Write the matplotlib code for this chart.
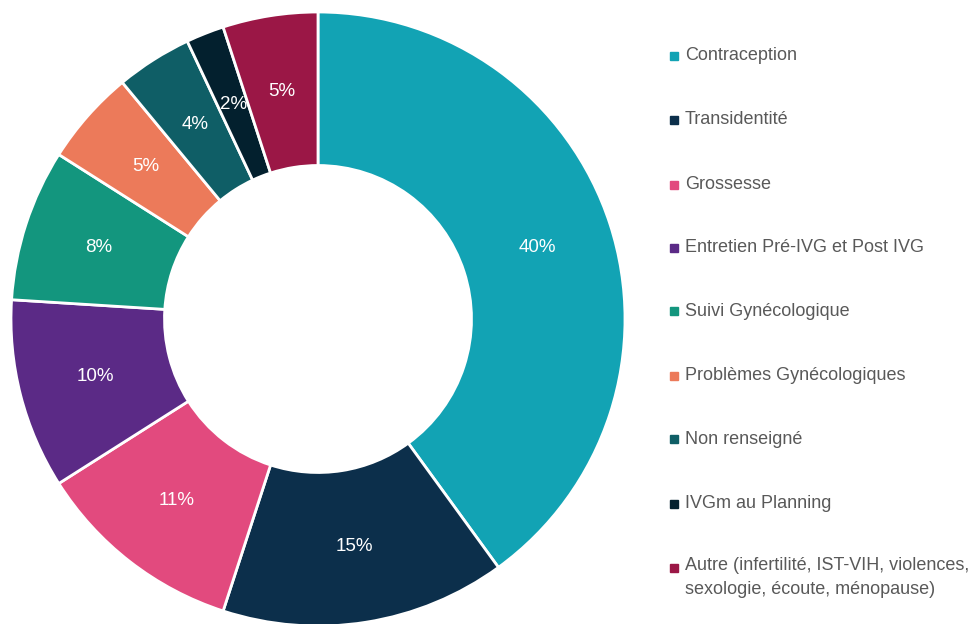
import matplotlib.pyplot as plt
from matplotlib.patches import Rectangle

plt.rcParams['font.family'] = ['Liberation Sans', 'DejaVu Sans']

categories = ["Contraception", "Transidentité", "Grossesse",
              "Entretien Pré-IVG et Post IVG", "Suivi Gynécologique",
              "Problèmes Gynécologiques", "Non renseigné", "IVGm au Planning",
              "Autre (infertilité, IST-VIH, violences,\nsexologie, écoute, ménopause)"]
values = [40, 15, 11, 10, 8, 5, 4, 2, 5]
colors = ["#12A3B4", "#0C2F4B", "#E24A7E", "#5B2A86", "#13967E",
          "#EC7A5A", "#0F5E66", "#03202E", "#9B1746"]

W, H = 971, 624
fig = plt.figure(figsize=(W / 100, H / 100), dpi=100)

cx, cy, r = 318, 319, 307
ax = fig.add_axes([(cx - r) / W, (H - cy - r) / H, 2 * r / W, 2 * r / H])
wedges, texts, autotexts = ax.pie(
    values, colors=colors, startangle=90, counterclock=False,
    autopct=lambda p: f"{p:.0f}%", pctdistance=0.75, radius=1,
    wedgeprops=dict(width=0.5, edgecolor="white", linewidth=2),
    textprops=dict(color="white", fontsize=13.5))
ax.set_xlim(-1, 1)
ax.set_ylim(-1, 1)
ax.set_aspect("equal")

# legende
ys = [56, 120, 185, 248, 311, 376, 439, 504, 568]
for y, lab, c in zip(ys, categories, colors):
    fig.patches.append(Rectangle((670 / W, (H - y - 4) / H), 8 / W, 8 / H,
                                 color=c, transform=fig.transFigure))
    if "\n" in lab:
        fig.text(685 / W, (H - y + 11) / H, lab, color="#595959", fontsize=13,
                 va="top", linespacing=1.5)
    else:
        fig.text(685 / W, (H - y) / H, lab, color="#595959", fontsize=13,
                 va="center")

fig.savefig("out.png", dpi=100)
